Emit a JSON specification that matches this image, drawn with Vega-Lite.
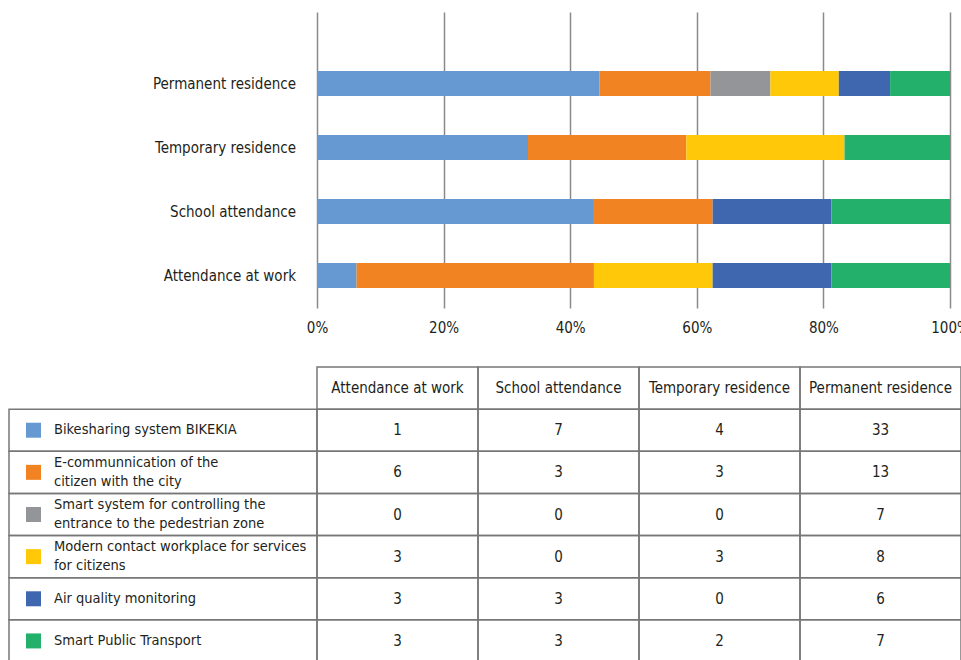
{
  "$schema": "https://vega.github.io/schema/vega-lite/v6.json",
  "background": "white",
  "padding": {"left": 8, "top": 12, "right": 0, "bottom": 0},
  "columns": 2,
  "align": "each",
  "bounds": "flush",
  "spacing": {"row": 59, "column": 0},
  "config": {
    "view": {"stroke": null},
    "font": "DejaVu Sans Condensed"
  },
  "datasets": {
    "counts": [
      {"series": "Bikesharing system BIKEKIA", "location": "Attendance at work", "count": 1},
      {"series": "Bikesharing system BIKEKIA", "location": "School attendance", "count": 7},
      {"series": "Bikesharing system BIKEKIA", "location": "Temporary residence", "count": 4},
      {"series": "Bikesharing system BIKEKIA", "location": "Permanent residence", "count": 33},
      {"series": "E-communnication of the\ncitizen with the city", "location": "Attendance at work", "count": 6},
      {"series": "E-communnication of the\ncitizen with the city", "location": "School attendance", "count": 3},
      {"series": "E-communnication of the\ncitizen with the city", "location": "Temporary residence", "count": 3},
      {"series": "E-communnication of the\ncitizen with the city", "location": "Permanent residence", "count": 13},
      {"series": "Smart system for controlling the\nentrance to the pedestrian zone", "location": "Attendance at work", "count": 0},
      {"series": "Smart system for controlling the\nentrance to the pedestrian zone", "location": "School attendance", "count": 0},
      {"series": "Smart system for controlling the\nentrance to the pedestrian zone", "location": "Temporary residence", "count": 0},
      {"series": "Smart system for controlling the\nentrance to the pedestrian zone", "location": "Permanent residence", "count": 7},
      {"series": "Modern contact workplace for services\nfor citizens", "location": "Attendance at work", "count": 3},
      {"series": "Modern contact workplace for services\nfor citizens", "location": "School attendance", "count": 0},
      {"series": "Modern contact workplace for services\nfor citizens", "location": "Temporary residence", "count": 3},
      {"series": "Modern contact workplace for services\nfor citizens", "location": "Permanent residence", "count": 8},
      {"series": "Air quality monitoring", "location": "Attendance at work", "count": 3},
      {"series": "Air quality monitoring", "location": "School attendance", "count": 3},
      {"series": "Air quality monitoring", "location": "Temporary residence", "count": 0},
      {"series": "Air quality monitoring", "location": "Permanent residence", "count": 6},
      {"series": "Smart Public Transport", "location": "Attendance at work", "count": 3},
      {"series": "Smart Public Transport", "location": "School attendance", "count": 3},
      {"series": "Smart Public Transport", "location": "Temporary residence", "count": 2},
      {"series": "Smart Public Transport", "location": "Permanent residence", "count": 7}
    ],
    "seriesList": [
      {"series": "Bikesharing system BIKEKIA"},
      {"series": "E-communnication of the\ncitizen with the city"},
      {"series": "Smart system for controlling the\nentrance to the pedestrian zone"},
      {"series": "Modern contact workplace for services\nfor citizens"},
      {"series": "Air quality monitoring"},
      {"series": "Smart Public Transport"}
    ],
    "locations": [
      {"location": "Attendance at work"},
      {"location": "School attendance"},
      {"location": "Temporary residence"},
      {"location": "Permanent residence"}
    ]
  },
  "concat": [
    {
      "width": 308,
      "height": 296,
      "data": {"name": "locations"},
      "mark": {"type": "text", "align": "right", "baseline": "middle", "fontSize": 15, "color": "#231f20"},
      "encoding": {
        "y": {
          "field": "location",
          "type": "nominal",
          "sort": ["Permanent residence", "Temporary residence", "School attendance", "Attendance at work"],
          "scale": {"type": "band", "paddingInner": 0.609, "paddingOuter": 0.617, "align": 0.747},
          "axis": null
        },
        "x": {"value": 287},
        "text": {"field": "location", "type": "nominal"}
      }
    },
    {
      "width": 633,
      "height": 296,
      "data": {"name": "counts"},
      "transform": [
        {"calculate": "indexof(['Bikesharing system BIKEKIA','E-communnication of the\\ncitizen with the city','Smart system for controlling the\\nentrance to the pedestrian zone','Modern contact workplace for services\\nfor citizens','Air quality monitoring','Smart Public Transport'], datum.series)", "as": "stackOrder"}
      ],
      "mark": {"type": "bar"},
      "encoding": {
        "x": {
          "field": "count",
          "type": "quantitative",
          "stack": "normalize",
          "scale": {"domain": [0, 1], "nice": false},
          "axis": {
            "title": null,
            "format": ".0%",
            "values": [0, 0.2, 0.4, 0.6, 0.8, 1],
            "grid": true,
            "gridColor": "#8a8a8a",
            "gridWidth": 1.5,
            "domain": false,
            "ticks": false,
            "labelFlush": false,
            "labelOverlap": false,
            "labelFontSize": 15,
            "labelColor": "#231f20",
            "labelPadding": 12
          }
        },
        "y": {
          "field": "location",
          "type": "nominal",
          "sort": ["Permanent residence", "Temporary residence", "School attendance", "Attendance at work"],
          "scale": {"type": "band", "paddingInner": 0.609, "paddingOuter": 0.617, "align": 0.747},
          "axis": null
        },
        "color": {
          "field": "series",
          "type": "nominal",
          "scale": {
            "domain": [
              "Bikesharing system BIKEKIA",
              "E-communnication of the\ncitizen with the city",
              "Smart system for controlling the\nentrance to the pedestrian zone",
              "Modern contact workplace for services\nfor citizens",
              "Air quality monitoring",
              "Smart Public Transport"
            ],
            "range": ["#6699D2", "#F28323", "#939598", "#FFC90A", "#3F67B0", "#22B06B"]
          },
          "legend": null
        },
        "order": {"field": "stackOrder", "type": "quantitative", "sort": "ascending"}
      }
    },
    {
      "width": 308,
      "height": 295,
      "data": {"name": "seriesList"},
      "encoding": {
        "y": {
          "field": "series",
          "type": "nominal",
          "scale": {
            "type": "band",
            "domain": [
              "header",
              "Bikesharing system BIKEKIA",
              "E-communnication of the\ncitizen with the city",
              "Smart system for controlling the\nentrance to the pedestrian zone",
              "Modern contact workplace for services\nfor citizens",
              "Air quality monitoring",
              "Smart Public Transport"
            ],
            "paddingInner": 0,
            "paddingOuter": 0
          },
          "axis": null
        }
      },
      "layer": [
        {
          "mark": {"type": "rect", "fill": null, "stroke": "#777777", "strokeWidth": 1.5}
        },
        {
          "mark": {"type": "square", "size": 225, "opacity": 1, "filled": true},
          "encoding": {
            "x": {"value": 24.5},
            "color": {
              "field": "series",
              "type": "nominal",
              "scale": {
                "domain": [
                  "Bikesharing system BIKEKIA",
                  "E-communnication of the\ncitizen with the city",
                  "Smart system for controlling the\nentrance to the pedestrian zone",
                  "Modern contact workplace for services\nfor citizens",
                  "Air quality monitoring",
                  "Smart Public Transport"
                ],
                "range": ["#6699D2", "#F28323", "#939598", "#FFC90A", "#3F67B0", "#22B06B"]
              },
              "legend": null
            }
          }
        },
        {
          "transform": [{"filter": "indexof(datum.series, '\\n') < 0"}],
          "mark": {"type": "text", "align": "left", "baseline": "middle", "fontSize": 14.5, "color": "#231f20"},
          "encoding": {
            "x": {"value": 45},
            "text": {"field": "series", "type": "nominal"}
          }
        },
        {
          "transform": [{"filter": "indexof(datum.series, '\\n') >= 0"}],
          "mark": {"type": "text", "align": "left", "baseline": "middle", "fontSize": 14.5, "lineBreak": "\n", "lineHeight": 19, "dy": -9.5, "color": "#231f20"},
          "encoding": {
            "x": {"value": 45},
            "text": {"field": "series", "type": "nominal"}
          }
        }
      ]
    },
    {
      "width": 644,
      "height": 295,
      "encoding": {
        "x": {
          "field": "location",
          "type": "nominal",
          "sort": ["Attendance at work", "School attendance", "Temporary residence", "Permanent residence"],
          "scale": {"type": "band", "paddingInner": 0, "paddingOuter": 0},
          "axis": null
        },
        "y": {
          "field": "series",
          "type": "nominal",
          "scale": {
            "type": "band",
            "domain": [
              "header",
              "Bikesharing system BIKEKIA",
              "E-communnication of the\ncitizen with the city",
              "Smart system for controlling the\nentrance to the pedestrian zone",
              "Modern contact workplace for services\nfor citizens",
              "Air quality monitoring",
              "Smart Public Transport"
            ],
            "paddingInner": 0,
            "paddingOuter": 0
          },
          "axis": null
        }
      },
      "layer": [
        {
          "data": {"name": "counts"},
          "mark": {"type": "rect", "fill": null, "stroke": "#777777", "strokeWidth": 1.5}
        },
        {
          "data": {"name": "counts"},
          "mark": {"type": "text", "baseline": "middle", "fontSize": 15, "color": "#231f20"},
          "encoding": {"text": {"field": "count", "type": "quantitative"}}
        },
        {
          "data": {"name": "locations"},
          "mark": {"type": "rect", "fill": null, "stroke": "#777777", "strokeWidth": 1.5},
          "encoding": {"y": {"datum": "header", "type": "nominal"}}
        },
        {
          "data": {"name": "locations"},
          "mark": {"type": "text", "baseline": "middle", "fontSize": 15, "color": "#231f20"},
          "encoding": {
            "y": {"datum": "header", "type": "nominal"},
            "text": {"field": "location", "type": "nominal"}
          }
        }
      ]
    }
  ]
}
